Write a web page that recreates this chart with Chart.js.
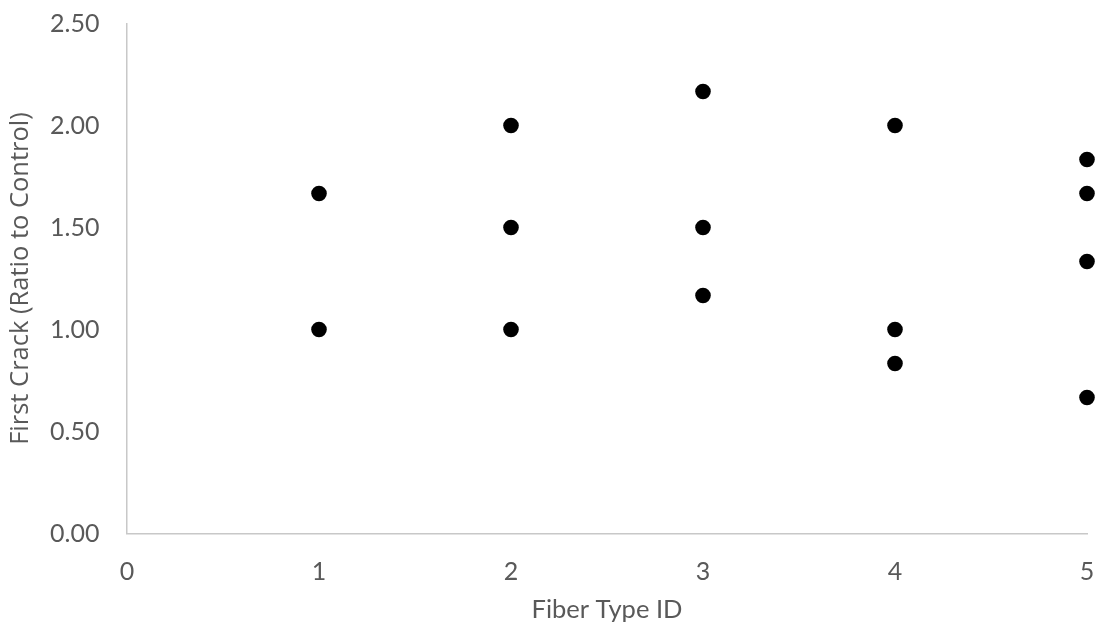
<!DOCTYPE html>
<html>
<head>
<meta charset="utf-8">
<script src="https://cdn.jsdelivr.net/npm/chart.js@4/dist/chart.umd.min.js"></script>
<style>
  html, body { margin: 0; padding: 0; background: #ffffff; }
  #wrap { width: 1098px; height: 631px; }
</style>
</head>
<body>
<div id="wrap"><canvas id="chart"></canvas></div>
<script>
// Fiber type of each specimen and its first-crack load relative to the control
const fiberTypeIds = [1, 1, 2, 2, 2, 3, 3, 3, 4, 4, 4, 5, 5, 5, 5];
const firstCrackRatios = [1.667, 1.000, 2.000, 1.500, 1.000, 2.167, 1.500, 1.167,
                          2.000, 1.000, 0.833, 1.833, 1.667, 1.333, 0.667];
const xTickValues = [0, 1, 2, 3, 4, 5];
const yTickValues = [0, 0.5, 1.0, 1.5, 2.0, 2.5];

const points = fiberTypeIds.map((id, i) => ({ x: id, y: firstCrackRatios[i] }));

const fontFamily = "Lato, 'Open Sans', sans-serif";
const textColor = '#595959';
const axisColor = '#c8c8c8';

// keep the plot area fixed: no extra room reserved for overhanging labels
function fixBox(size) {
  return s => {
    if (s.isHorizontal()) s.height = size; else s.width = size;
    s.paddingLeft = s.paddingRight = s.paddingTop = s.paddingBottom = 0;
  };
}

new Chart(document.getElementById('chart'), {
  type: 'scatter',
  data: {
    datasets: [{
      label: 'First Crack',
      data: points,
      backgroundColor: '#000000',
      borderColor: '#000000',
      borderWidth: 0,
      pointRadius: 7.8,
      pointHoverRadius: 7.8,
      clip: false
    }]
  },
  options: {
    responsive: true,
    maintainAspectRatio: false,
    animation: false,
    devicePixelRatio: 1,
    layout: { padding: { left: 0, right: 11, top: 23.5, bottom: 0 } },
    plugins: { legend: { display: false }, tooltip: { enabled: false } },
    scales: {
      x: {
        type: 'linear',
        min: xTickValues[0],
        max: xTickValues[xTickValues.length - 1],
        afterBuildTicks: s => { s.ticks = xTickValues.map(v => ({ value: v })); },
        afterFit: fixBox(97.5),
        grid: { display: false, drawTicks: false },
        border: { display: true, color: axisColor, width: 1.5 },
        ticks: {
          color: textColor,
          font: { family: fontFamily, size: 25 },
          padding: 23,
          maxRotation: 0
        },
        title: {
          display: true,
          text: 'Fiber Type ID',
          color: textColor,
          font: { family: fontFamily, size: 25.5 },
          padding: { top: 0, bottom: 5.5 }
        }
      },
      y: {
        type: 'linear',
        min: yTickValues[0],
        max: yTickValues[yTickValues.length - 1],
        afterBuildTicks: s => { s.ticks = yTickValues.map(v => ({ value: v })); },
        afterFit: fixBox(127),
        grid: { display: false, drawTicks: false },
        border: { display: true, color: axisColor, width: 1.5 },
        ticks: {
          color: textColor,
          font: { family: fontFamily, size: 25 },
          padding: 27.5,
          callback: v => Number(v).toFixed(2)
        },
        title: {
          display: true,
          text: 'First Crack (Ratio to Control)',
          color: textColor,
          font: { family: "'Open Sans', sans-serif", size: 25.5 },
          padding: { top: 5, bottom: 0 }
        }
      }
    }
  }
});
</script>
</body>
</html>
